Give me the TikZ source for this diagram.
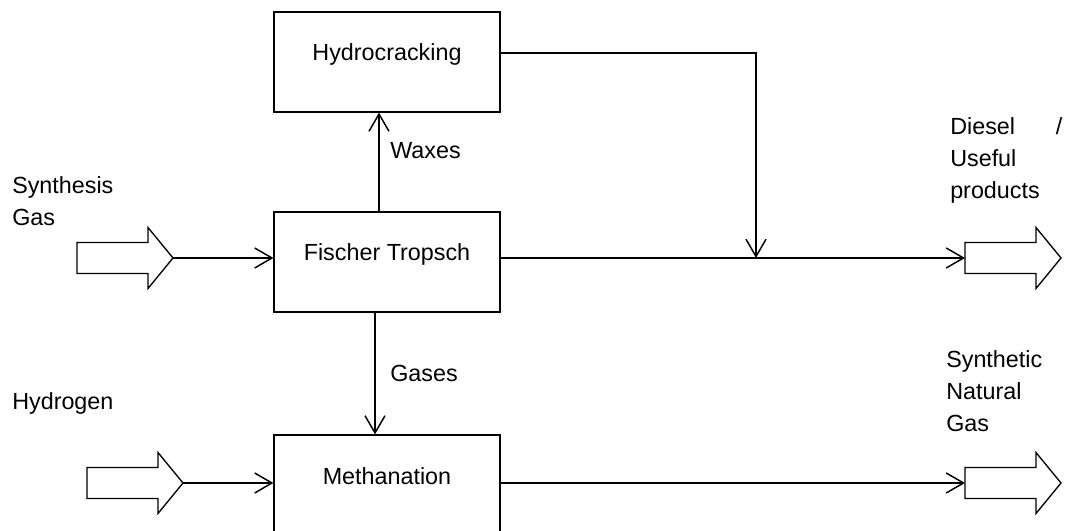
\documentclass[tikz,border=0pt]{standalone}
\usepackage{fontspec}
\setmainfont{Liberation Sans}
\usetikzlibrary{arrows.meta}
\begin{document}
\begin{tikzpicture}[x=0.75pt,y=-0.75pt,
  every node/.style={font=\fontsize{17.5pt}{24pt}\selectfont},
  unit/.style={rectangle,draw,line width=0.8pt,minimum width=169.5pt,inner sep=0pt,text height=36.75pt,text depth=38.25pt},
  lbl/.style={inner sep=0pt,align=left},
  flow/.style={line width=1.1pt,-{Straight Barb[length=13pt,width=15pt,line width=1.1pt]}},
  feed/.pic={
    \draw[line width=1pt,fill=white] (0,-15.5) -- (71,-15.5) -- (71,-30.5) -- (96,0) -- (71,30.5) -- (71,15.5) -- (0,15.5) -- cycle;
    \coordinate (-tail) at (0,0);
    \coordinate (-tip) at (96,0);
  }]
\useasboundingbox (0,0) rectangle (1065,531);
\node[unit] (hc) at (387,62) {Hydrocracking};
\node[unit] (ft) at (387,262) {Fischer Tropsch};
\node[unit] (meth) at (387,485) {Methanation};
\pic (syn) at (77,258) {feed};
\pic (hyd) at (87,483) {feed};
\pic (dsl) at (965,258) {feed};
\pic (sng) at (965,483) {feed};
\node[lbl,anchor=north west] (synlbl) at (12,176) {Synthesis\\Gas};
\node[lbl,anchor=base west] (hydlbl) at (12,409) {Hydrogen};
\node[lbl,anchor=north west,text width=84pt] (dsllbl) at (950,117) {Diesel\hfill/\\Useful\\products};
\node[lbl,anchor=north west] (snglbl) at (946,350) {Synthetic\\Natural\\Gas};
\node[lbl,anchor=base west] (waxes) at (390,159) {Waxes};
\node[lbl,anchor=base west] (gases) at (390,381) {Gases};
\coordinate (join) at (756,258);
\draw[flow] (syn-tip) -- (syn-tip -| ft.west);
\draw[flow] (hyd-tip) -- (hyd-tip -| meth.west);
\draw[flow] ([xshift=-6pt]ft.north) -- ([xshift=-6pt]hc.south);
\draw[flow] ([xshift=-9pt]ft.south) -- ([xshift=-9pt]meth.north);
\draw[flow] ([yshift=6.75pt]hc.east) -| (join);
\draw[flow] (dsl-tail -| ft.east) -- (dsl-tail);
\draw[flow] (sng-tail -| meth.east) -- (sng-tail);
\end{tikzpicture}
\end{document}
